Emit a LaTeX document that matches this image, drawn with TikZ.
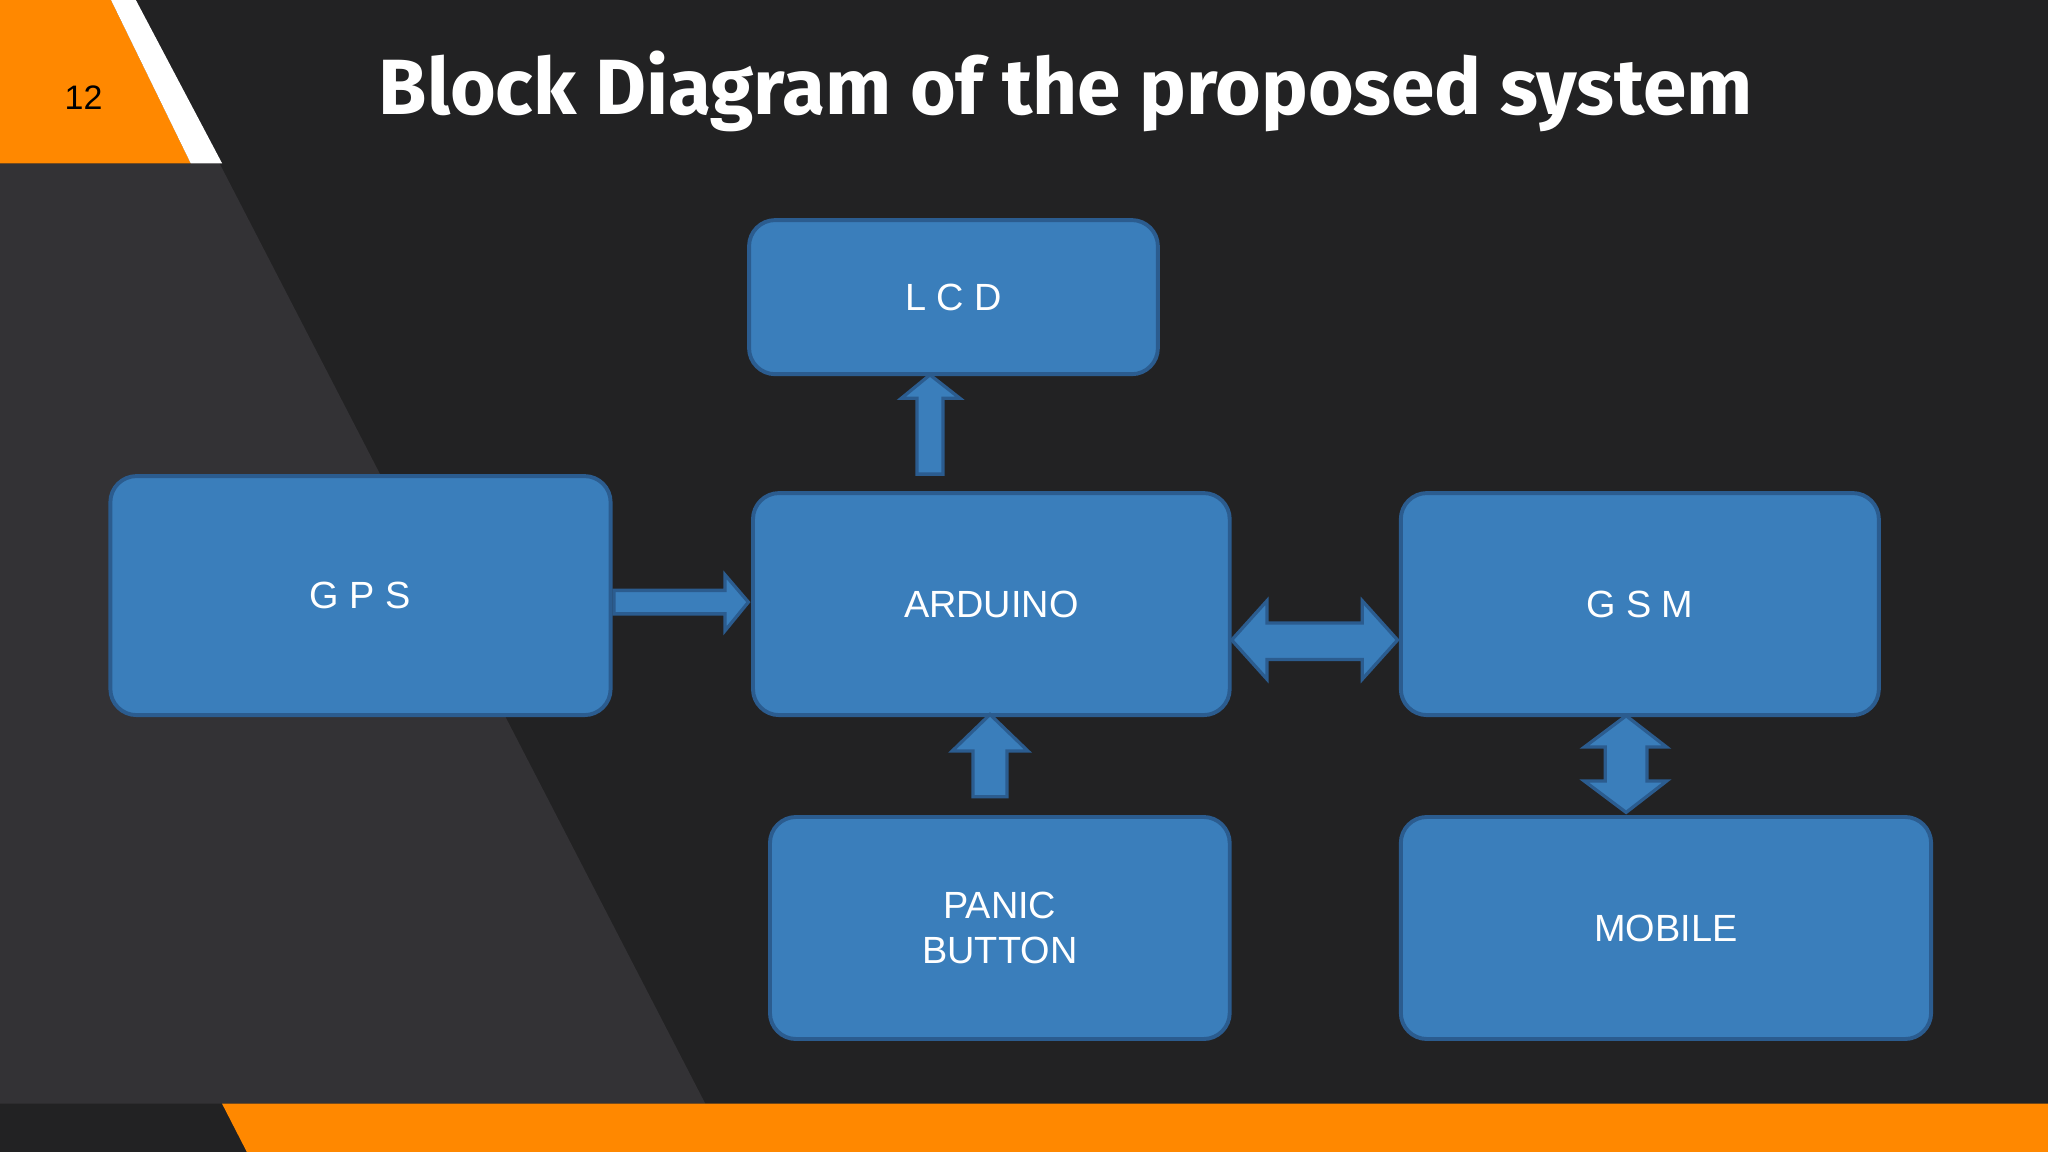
\documentclass[tikz,border=0pt]{standalone}
\usepackage{fontspec}
\setmainfont{Liberation Sans}
\newfontfamily\titlefont{Fira Sans}
\begin{document}
\begin{tikzpicture}[x=1pt,y=-1pt,
  blk/.style={draw=boxline,line width=3pt,fill=boxfill,rounded corners=20pt,text=white,font=\fontsize{29}{34}\selectfont,align=center,anchor=north west,inner sep=0pt},
  barrow/.style={draw=boxline,line width=2.5pt,fill=boxfill,line join=miter}]
\definecolor{bg}{HTML}{222223}
\definecolor{gr}{HTML}{333235}
\definecolor{org}{HTML}{FF8800}
\definecolor{boxfill}{HTML}{3A7EBB}
\definecolor{boxline}{HTML}{2B5C8F}
\useasboundingbox (0,0) rectangle (1568,882);
\fill[bg] (0,0) rectangle (1568,882);
\fill[gr] (0,125) -- (168,125) -- (540,845) -- (0,845) -- cycle;
\fill[org] (0,0) -- (85,0) -- (146,125) -- (0,125) -- cycle;
\fill[white] (85,0) -- (104,0) -- (170,125) -- (146,125) -- cycle;
\fill[org] (170,845) -- (1568,845) -- (1568,882) -- (189,882) -- cycle;
\node[font=\fontsize{26}{30}\selectfont,text=black] (num) at (64,75) {12};
\node[font=\titlefont\bfseries\fontsize{60}{70}\selectfont,text=white] (title) at (816,70) {Block Diagram of the proposed system};
% boxes
\node[blk,minimum width=313pt,minimum height=118pt] (lcd) at (572,167) {L C D};
\node[blk,minimum width=383pt,minimum height=183pt] (gps) at (83,363) {G P S};
\node[blk,minimum width=365pt,minimum height=170pt] (ard) at (575,376) {ARDUINO};
\node[blk,minimum width=366pt,minimum height=170pt] (gsm) at (1071,376) {G S M};
\node[blk,minimum width=352pt,minimum height=170pt] (pan) at (588,624) {PANIC\\BUTTON};
\node[blk,minimum width=406pt,minimum height=170pt] (mob) at (1071,624) {MOBILE};
% arrows
\draw[barrow] (702,363) -- (702,305) -- (690,305) -- (712,287) -- (735,305) -- (722,305) -- (722,363) -- cycle;
\draw[barrow] (470,452) -- (555,452) -- (555,440) -- (573,461) -- (555,483) -- (555,470) -- (470,470) -- cycle;
\draw[barrow] (745,610) -- (745,575) -- (729,575) -- (758,547) -- (787,575) -- (771,575) -- (771,610) -- cycle;
\draw[barrow] (943,490) -- (970,460) -- (970,477) -- (1043,477) -- (1043,460) -- (1070,490) -- (1043,520) -- (1043,505) -- (970,505) -- (970,520) -- cycle;
\draw[barrow] (1245,548) -- (1276,572) -- (1261,572) -- (1261,598) -- (1276,598) -- (1245,622) -- (1213,598) -- (1229,598) -- (1229,572) -- (1213,572) -- cycle;
\end{tikzpicture}
\end{document}
